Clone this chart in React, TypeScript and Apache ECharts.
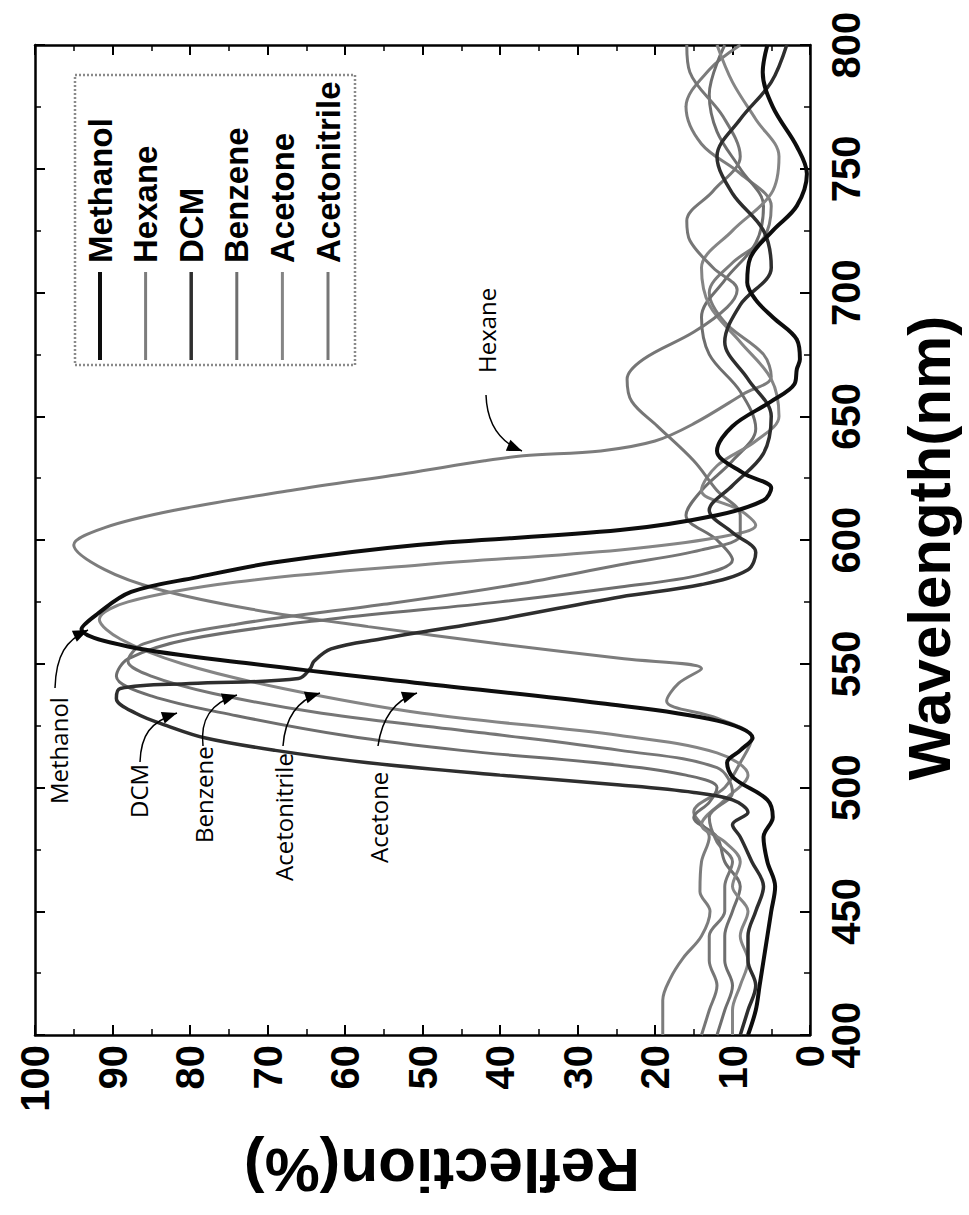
import React, { useEffect, useRef } from "react";
import * as echarts from "echarts";

// ---- data: [wavelength (nm), reflection (%)] ----
const SERIES_NAMES = ["Methanol", "Hexane", "DCM", "Benzene", "Acetone", "Acetonitrile"];

const methanol = [
  [400, 8], [410, 7], [420, 6.5], [430, 6], [440, 5.5], [450, 5], [460, 4.5], [470, 5.5], [480, 6], [488, 4.8],
  [495, 5.5], [504, 9.9], [510, 10.7], [515, 9], [520, 7.4], [527, 12], [534, 27], [542, 50], [550, 72], [557, 88],
  [564, 94], [570, 92], [579, 87.6], [585, 79], [591, 69], [598, 50.7], [604, 24.5], [610, 12], [616, 6], [621, 5],
  [627, 8.6], [636, 12], [646, 10], [656, 5], [663, 2], [669, 1.7], [673, 1.3], [681, 1.7], [690, 4.8], [697, 7],
  [704, 8.1], [714, 7.7], [725, 4.8], [735, 1.7], [748, 0.4], [759, 1.7], [775, 4.8], [789, 6.1], [800, 5.5],
];

const hexane = [
  [400, 19], [414, 19], [423, 18], [431, 16.4], [440, 14], [450, 12.9], [458, 14.2], [470, 14], [480, 13], [490, 15],
  [500, 11], [510, 9], [520, 7.5], [528, 12], [535, 18.5], [542, 17], [548, 14], [552, 24], [558, 40], [565, 57],
  [572, 72], [580, 84], [588, 91], [598, 95], [605, 91], [612, 82], [620, 67], [627, 52], [632, 42], [634, 37],
  [636, 27], [640, 20], [647, 15], [659, 8.6], [666, 5], [675, 6], [688, 11], [700, 13], [712, 10], [722, 6],
  [735, 5], [748, 9], [760, 14], [775, 16], [790, 13], [800, 9],
];

const dcm = [
  [400, 9], [410, 8], [420, 7], [430, 8], [440, 8], [450, 7], [460, 6], [470, 7.5], [480, 9], [485, 10],
  [490, 8], [495, 10], [498, 15], [501, 24.5], [505, 40], [510, 57], [515, 69], [520, 78], [525, 83], [530, 87],
  [536, 89.5], [540, 89], [542, 80], [544, 66], [548, 64.5], [551, 64], [556, 61.8], [560, 55.4], [568, 40],
  [577, 24.5], [582, 14], [588, 8], [595, 7], [603, 10], [612, 13], [622, 10], [635, 6], [650, 5], [665, 8],
  [680, 11], [695, 9], [710, 5], [725, 6], [740, 10], [755, 12], [770, 9], [785, 5], [800, 3],
];

const benzene = [
  [400, 12], [410, 11], [420, 10], [430, 11], [440, 11], [450, 10], [460, 9], [470, 11], [480, 12], [488, 15],
  [494, 13], [500, 12], [505, 16], [509, 24.5], [515, 45], [521, 60], [529, 74], [537, 85], [545, 89.5], [552, 88],
  [560, 80], [568, 62], [575, 40], [581, 24.5], [586, 14], [592, 10], [600, 12], [610, 16], [620, 14], [632, 10],
  [645, 7], [660, 9], [675, 13], [690, 14], [705, 11], [720, 7], [735, 6], [750, 9], [765, 12], [780, 13], [800, 11],
];

const acetone = [
  [400, 10], [410, 10], [420, 9], [430, 8], [440, 9], [450, 8], [460, 10], [470, 9], [478, 11], [485, 14],
  [495, 11], [505, 8], [514, 12], [521, 24.5], [530, 50], [540, 68], [550, 81], [560, 89], [568, 91.7], [575, 88],
  [583, 74], [590, 50], [596, 24.5], [601, 12], [606, 7], [612, 9], [620, 14], [630, 12], [640, 7], [650, 4],
  [665, 5], [680, 9], [695, 13], [710, 14], [725, 10], [740, 5], [755, 4], [770, 7], [785, 10], [800, 12],
];

const acetonitrile = [
  [400, 14], [410, 13], [420, 12], [430, 13], [440, 13], [450, 11], [460, 11], [470, 10], [478, 12], [488, 13],
  [498, 10], [508, 12], [515, 24.5], [522, 42], [530, 63], [538, 77], [545, 85], [551, 88], [558, 86], [566, 74],
  [574, 55], [582, 38], [590, 24.5], [596, 14], [602, 9], [610, 9], [620, 12], [632, 15], [646, 19.7], [656, 23],
  [665, 23.6], [673, 21.5], [684, 15], [694, 10.7], [701, 9.4], [710, 12.5], [721, 15.5], [729, 15.9], [741, 12.5],
  [755, 9], [771, 11.2], [789, 15.5], [800, 15.9],
];

const SERIES_DATA = [methanol, hexane, dcm, benzene, acetone, acetonitrile];

// axis ranges
const REFLECTION_RANGE = [0, 100];
const REFLECTION_STEP = 10;
const WAVELENGTH_RANGE = [400, 800];
const WAVELENGTH_STEP = 50;

// annotation texts (pointing labels)
const ANNOTATIONS = ["Methanol", "DCM", "Benzene", "Acetonitrile", "Acetone", "Hexane"];

// ---- styles ----
const STYLE: Record<string, { color: string; width: number; z: number }> = {
  Methanol: { color: "#0d0d0d", width: 4, z: 9 },
  Hexane: { color: "#7c7c7c", width: 3, z: 3 },
  DCM: { color: "#2e2e2e", width: 3.5, z: 8 },
  Benzene: { color: "#6e6e6e", width: 3, z: 4 },
  Acetone: { color: "#858585", width: 3, z: 5 },
  Acetonitrile: { color: "#767676", width: 3, z: 6 },
};

const TICK_FONT = '"Liberation Sans", Arial, sans-serif';
const NOTE_FONT = '"Open Sans", "Noto Sans", sans-serif';

function arrowHead(tip: number[], from: number[], len = 15, half = 6) {
  const dx = tip[0] - from[0];
  const dy = tip[1] - from[1];
  const d = Math.hypot(dx, dy) || 1;
  const ux = dx / d, uy = dy / d;
  const bx = tip[0] - ux * len, by = tip[1] - uy * len;
  return [
    [tip[0], tip[1]],
    [bx - uy * half, by + ux * half],
    [bx + uy * half, by - ux * half],
  ];
}

export default function App() {
  const ref = useRef<HTMLDivElement>(null);

  useEffect(() => {
    if (!ref.current) return;
    const chart = echarts.init(ref.current, undefined, { renderer: "svg" });

    const axisLine = { show: true, onZero: false, lineStyle: { color: "#000", width: 2.5 } };
    const axisTick = { show: true, inside: true, length: 10, lineStyle: { color: "#000", width: 2 } };
    const minorTick = { show: true, splitNumber: 2, length: 6, lineStyle: { color: "#000", width: 1.5 } };
    const tickLabel = { fontSize: 40, fontWeight: "bold" as const, fontFamily: TICK_FONT, color: "#000" };

    const series = SERIES_NAMES.map((name, i) => ({
      name,
      type: "line",
      data: SERIES_DATA[i].map(([wl, r]) => [r, wl]),
      showSymbol: false,
      symbol: "none",
      smooth: 0.35,
      z: STYLE[name].z,
      lineStyle: { color: STYLE[name].color, width: STYLE[name].width },
      itemStyle: { color: STYLE[name].color },
    }));

    // legend drawn with graphics (rotated)
    const legendX0 = 100;
    const legendDx = 45.6;
    const legendGraphics: any[] = [
      {
        type: "rect",
        shape: { x: 75, y: 75, width: 280, height: 290 },
        style: { fill: "#fff", stroke: "#8a8a8a", lineWidth: 2.5, lineDash: [2, 2] },
        z: 20,
      },
    ];
    SERIES_NAMES.forEach((name, i) => {
      const cx = legendX0 + i * legendDx;
      legendGraphics.push({
        type: "line",
        shape: { x1: cx, y1: 272, x2: cx, y2: 360 },
        style: { stroke: STYLE[name].color, lineWidth: STYLE[name].width },
        z: 21,
      });
      legendGraphics.push({
        type: "text",
        x: cx,
        y: 263,
        rotation: Math.PI / 2,
        style: {
          text: name,
          fill: "#000",
          font: `bold 33px ${TICK_FONT}`,
          align: "left",
          verticalAlign: "middle",
        },
        z: 21,
      });
    });

    // annotations: text bottom anchor, arrow start, control points, tip
    const notes = [
      { text: ANNOTATIONS[0], x: 58, y: 804, p: [[55, 688], [56, 655], [66, 640], [88, 630]] },
      { text: ANNOTATIONS[1], x: 138, y: 818, p: [[140, 762], [141, 735], [150, 722], [177, 713]] },
      { text: ANNOTATIONS[2], x: 203, y: 843, p: [[203, 746], [200, 720], [210, 703], [237, 695]] },
      { text: ANNOTATIONS[3], x: 283, y: 881, p: [[283, 746], [285, 718], [298, 700], [320, 693]] },
      { text: ANNOTATIONS[4], x: 378, y: 863, p: [[378, 746], [382, 718], [395, 700], [417, 693]] },
      { text: ANNOTATIONS[5], x: 486, y: 373, p: [[486, 395], [487, 425], [500, 442], [522, 451]] },
    ];
    const noteGraphics: any[] = [];
    notes.forEach((n) => {
      noteGraphics.push({
        type: "text",
        x: n.x,
        y: n.y,
        rotation: Math.PI / 2,
        style: { text: n.text, fill: "#000", font: `24px ${NOTE_FONT}`, align: "left", verticalAlign: "middle" },
        z: 30,
      });
      const [s, c1, c2, t] = n.p;
      noteGraphics.push({
        type: "bezierCurve",
        shape: { x1: s[0], y1: s[1], cpx1: c1[0], cpy1: c1[1], cpx2: c2[0], cpy2: c2[1], x2: t[0], y2: t[1] },
        style: { stroke: "#000", lineWidth: 1.5, fill: null },
        z: 30,
      });
      noteGraphics.push({
        type: "polygon",
        shape: { points: arrowHead(t, c2) },
        style: { fill: "#000" },
        z: 31,
      });
    });

    const titleGraphics = [
      {
        type: "text",
        x: 442,
        y: 1170,
        rotation: Math.PI,
        style: {
          text: "Reflection(%)",
          fill: "#000",
          font: `bold 62px ${TICK_FONT}`,
          align: "center",
          verticalAlign: "middle",
        },
      },
      {
        type: "text",
        x: 929,
        y: 548,
        rotation: Math.PI / 2,
        style: {
          text: "Wavelength(nm)",
          fill: "#000",
          font: `bold 60px ${TICK_FONT}`,
          align: "center",
          verticalAlign: "middle",
        },
      },
    ];

    chart.setOption({
      animation: false,
      backgroundColor: "#fff",
      grid: { left: 35, top: 45, width: 775, height: 990, containLabel: false },
      xAxis: [
        {
          type: "value",
          min: REFLECTION_RANGE[0],
          max: REFLECTION_RANGE[1],
          interval: REFLECTION_STEP,
          inverse: true,
          position: "bottom",
          axisLine,
          axisTick,
          minorTick,
          splitLine: { show: false },
          axisLabel: { ...tickLabel, rotate: 90, margin: 10 },
        },
        {
          type: "value",
          min: REFLECTION_RANGE[0],
          max: REFLECTION_RANGE[1],
          interval: REFLECTION_STEP,
          inverse: true,
          position: "top",
          axisLine,
          axisTick,
          minorTick,
          splitLine: { show: false },
          axisLabel: { show: false },
        },
      ],
      yAxis: [
        {
          type: "value",
          min: WAVELENGTH_RANGE[0],
          max: WAVELENGTH_RANGE[1],
          interval: WAVELENGTH_STEP,
          position: "right",
          axisLine,
          axisTick,
          minorTick,
          splitLine: { show: false },
          axisLabel: { ...tickLabel, rotate: 90, margin: 16 },
        },
        {
          type: "value",
          min: WAVELENGTH_RANGE[0],
          max: WAVELENGTH_RANGE[1],
          interval: WAVELENGTH_STEP,
          position: "left",
          axisLine,
          axisTick,
          minorTick,
          splitLine: { show: false },
          axisLabel: { show: false },
        },
      ],
      series,
      graphic: [...legendGraphics, ...noteGraphics, ...titleGraphics],
    });

    return () => chart.dispose();
  }, []);

  return (
    <div
      ref={ref}
      style={{ position: "fixed", left: 0, top: 0, width: 969, height: 1215, background: "#fff" }}
    />
  );
}
